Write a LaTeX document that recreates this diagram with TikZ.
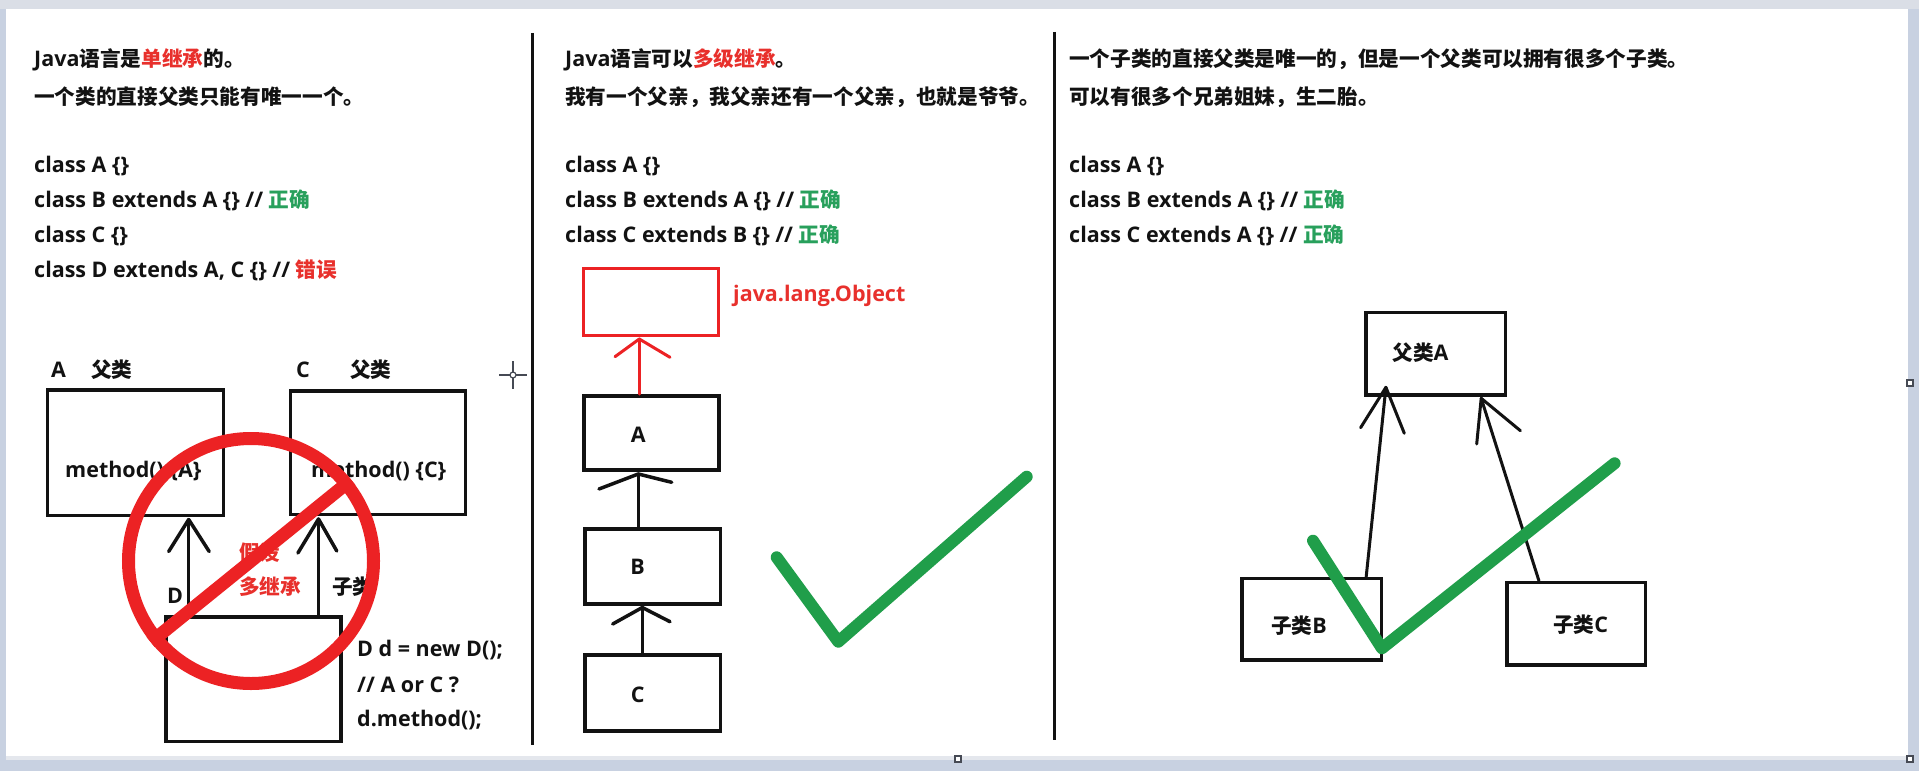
\documentclass[tikz,border=0pt]{standalone}
\usepackage{fontspec}
\setmainfont{Open Sans}
\newfontfamily\cjkfont{Noto Sans CJK SC}[Scale=0.96]
\newcommand{\zh}[1]{{\cjkfont\bfseries #1}}
\newcommand{\fs}{\fontsize{21.5bp}{26bp}\selectfont}
\definecolor{ink}{RGB}{18,18,18}
\definecolor{redmark}{RGB}{236,34,36}
\definecolor{redtxt}{RGB}{232,48,44}
\definecolor{greentxt}{RGB}{40,160,92}
\definecolor{greencheck}{RGB}{32,158,74}
\definecolor{framecol}{RGB}{200,209,225}
\definecolor{topcol}{RGB}{218,222,230}
\definecolor{bottomlight}{RGB}{228,231,237}
\definecolor{handlecol}{RGB}{70,74,84}
\begin{document}
\begin{tikzpicture}[x=1bp,y=-1bp,
  txt/.style={anchor=base west, inner sep=0pt, text=ink, font=\fs\bfseries},
  ctxt/.style={anchor=center, inner sep=0pt, text=ink, font=\fs\bfseries},
  box/.style={draw=ink, line width=3.5bp, inner sep=0pt, rectangle},
  redbox/.style={draw=redmark, line width=3bp, inner sep=0pt, rectangle},
  conn/.style={draw=ink, line width=3.5bp, line cap=round},
  thinconn/.style={draw=ink, line width=3bp, line cap=round},
  redconn/.style={draw=redmark, line width=3bp, line cap=round},
  check/.style={draw=greencheck, line width=12bp, line cap=round, line join=round},
  divider/.style={draw=ink, line width=3.5bp},
  ban/.style={draw=redmark, line width=13bp, circle, inner sep=0pt, minimum size=245bp},
  handle/.style={draw=handlecol, fill=white, line width=1.6bp, minimum size=6.5bp, inner sep=0pt, rectangle},
]
\useasboundingbox (0,0) rectangle (1919,771);
% frame
\fill[framecol] (0,0) rectangle (1919,771);
\fill[topcol] (0,0) rectangle (1919,9);
\fill[bottomlight] (6,756) rectangle (1908,760);
\fill[white] (6,9) rectangle (1908,756);
\node[handle] (h1) at (1910,383) {};
\node[handle] (h2) at (958,759) {};
\node[handle] (h3) at (1910,759) {};

% dividers
\coordinate (d1t) at (532.5,33);
\coordinate (d1b) at (532.5,745);
\coordinate (d2t) at (1054.5,32);
\coordinate (d2b) at (1054.5,740);
\draw[divider] (d1t) -- (d1b);
\draw[divider] (d2t) -- (d2b);

% ---------------- panel 1 ----------------
\node[txt] (p1l1) at (34,67) {Java\zh{语言是}\textcolor{redtxt}{\zh{单继承}}\zh{的。}};
\node[txt] (p1l2) at (34,104) {\zh{一个类的直接父类只能有唯一一个。}};
\node[txt] (p1l3) at (34,172) {class A \{\}};
\node[txt] (p1l4) at (34,207) {class B extends A \{\} // \textcolor{greentxt}{\zh{正确}}};
\node[txt] (p1l5) at (34,242) {class C \{\}};
\node[txt] (p1l6) at (34,277) {class D extends A, C \{\} // \textcolor{redtxt}{\zh{错误}}};

\node[txt] (labA) at (51,377) {A};
\node[txt] (labAf) at (91,377) {\zh{父类}};
\node[txt] (labC) at (296,377) {C};
\node[txt] (labCf) at (350,377) {\zh{父类}};

\node[box, minimum width=175.5bp, minimum height=125.5bp] (boxA) at (135.5,452.5) {};
\node[box, minimum width=175bp, minimum height=123.5bp] (boxC) at (377.8,452.5) {};
\node[box, minimum width=174.8bp, minimum height=124.5bp] (boxD) at (253.5,679) {};
\node[txt] (mA) at (65,477) {method() \{A\}};
\node[txt] (mC) at (311,477) {method() \{C\}};
\node[txt] (labD) at (167,603) {D};
\node[txt, text=redtxt] (jiashe) at (239,560) {\zh{假设}};
\node[txt, text=redtxt] (duo) at (239,594) {\zh{多继承}};
\node[txt] (zilei) at (332,594) {\zh{子类}};
\node[txt] (code1) at (357,656) {D d = new D();};
\node[txt] (code2) at (357,692) {// A or C ?};
\node[txt] (code3) at (357,726) {d.method();};

\coordinate (tA) at (188.7,519.5);
\draw[conn] (boxD.north -| tA) -- (tA);
\draw[conn] (tA) -- ++(-20,32);
\draw[conn] (tA) -- ++(20.5,32);
\coordinate (tC) at (318.5,519);
\draw[conn] (boxD.north -| tC) -- (tC);
\draw[conn] (tC) -- ++(-20.6,34);
\draw[conn] (tC) -- ++(18.3,32);

% prohibition sign
\node[ban] (ban) at (251,561) {};
\draw[draw=redmark, line width=13bp] (ban.219) -- (ban.39);

% cursor crosshair
\coordinate (cur) at (513,375);
\draw[handlecol, line width=1.3bp] (cur) ++(-14,0) -- ++(28,0);
\draw[handlecol, line width=1.3bp] (cur) ++(0,-14) -- ++(0,28);
\draw[handlecol, fill=white, line width=1.2bp] (cur) circle[radius=3bp];

% ---------------- panel 2 ----------------
\node[txt] (p2l1) at (565,67) {Java\zh{语言可以}\textcolor{redtxt}{\zh{多级继承}}\zh{。}};
\node[txt] (p2l2) at (565,104) {\zh{我有一个父亲，我父亲还有一个父亲，也就是爷爷。}};
\node[txt] (p2l3) at (565,172) {class A \{\}};
\node[txt] (p2l4) at (565,207) {class B extends A \{\} // \textcolor{greentxt}{\zh{正确}}};
\node[txt] (p2l5) at (565,242) {class C extends B \{\} // \textcolor{greentxt}{\zh{正确}}};

\node[redbox, minimum width=134.7bp, minimum height=67.6bp] (obj) at (651.2,302) {};
\node[txt, text=redtxt] (objlab) at (733,301) {java.lang.Object};
\node[box, minimum width=134.9bp, minimum height=74.2bp] (bA) at (651.5,432.9) {};
\node[box, minimum width=135.5bp, minimum height=74.9bp] (bB) at (652.8,566.5) {};
\node[box, minimum width=135.5bp, minimum height=75.9bp] (bC) at (652.8,693) {};
\node[ctxt] (tbA) at (638.3,434.7) {A};
\node[ctxt] (tbB) at (637.7,566.5) {B};
\node[ctxt] (tbC) at (637.7,694.7) {C};

\coordinate (tO) at (639.3,339);
\draw[redconn] (bA.north -| tO) -- (tO);
\draw[redconn] (tO) -- (615,356.7);
\draw[redconn] (tO) -- (670,357.3);
\coordinate (tAB) at (638.3,474);
\draw[conn] (bB.north -| tAB) -- (tAB);
\draw[conn] (tAB) -- (599,489);
\draw[conn] (tAB) -- (671.7,482.3);
\coordinate (tBC) at (642.3,607.5);
\draw[conn] (bC.north -| tBC) -- (tBC);
\draw[conn] (tBC) -- (612.7,624);
\draw[conn] (tBC) -- (670,621.7);

\coordinate (k1a) at (776.7,557.3);
\coordinate (k1b) at (838.3,641.7);
\coordinate (k1c) at (1026.7,476.7);
\draw[check] (k1a) -- (k1b) -- (k1c);

% ---------------- panel 3 ----------------
\node[txt] (p3l1) at (1069,67) {\zh{一个子类的直接父类是唯一的，但是一个父类可以拥有很多个子类。}};
\node[txt] (p3l2) at (1069,104) {\zh{可以有很多个兄弟姐妹，生二胎。}};
\node[txt] (p3l3) at (1069,172) {class A \{\}};
\node[txt] (p3l4) at (1069,207) {class B extends A \{\} // \textcolor{greentxt}{\zh{正确}}};
\node[txt] (p3l5) at (1069,242) {class C extends A \{\} // \textcolor{greentxt}{\zh{正确}}};

\node[box, minimum width=139.5bp, minimum height=82.5bp] (pA) at (1435.5,353.7) {};
\node[box, minimum width=139.5bp, minimum height=81.5bp] (sB) at (1311.5,619.2) {};
\node[box, minimum width=138.5bp, minimum height=82.5bp] (sC) at (1576,623.7) {};
\node[ctxt] (tpA) at (1420.5,352.7) {\zh{父类}A};
\node[ctxt] (tsB) at (1299,626) {\zh{子类}B};
\node[ctxt] (tsC) at (1580.5,625) {\zh{子类}C};

\coordinate (tpB) at (1385.9,387.3);
\draw[thinconn] (sB.north -| 1366.2,0) -- (tpB);
\draw[thinconn] (tpB) -- (1360.6,427.7);
\draw[thinconn] (tpB) -- (1404.3,433.3);
\coordinate (tpC) at (1481.2,398.3);
\draw[thinconn] (sC.north -| 1538.9,0) -- (tpC);
\draw[thinconn] (tpC) -- (1476.7,444);
\draw[thinconn] (tpC) -- (1520.4,430.7);

\coordinate (k2a) at (1313,540.7);
\coordinate (k2b) at (1381.9,648.3);
\coordinate (k2c) at (1614.6,463.3);
\draw[check] (k2a) -- (k2b) -- (k2c);
\end{tikzpicture}
\end{document}
